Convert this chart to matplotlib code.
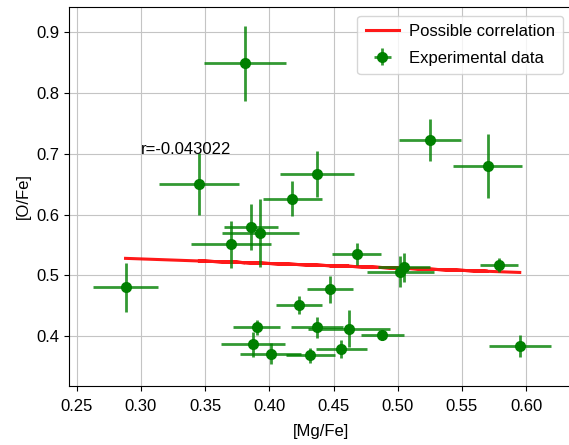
import numpy as np
import matplotlib
matplotlib.use("Agg")
import matplotlib.pyplot as plt

plt.rcParams['font.family'] = ['Liberation Sans', 'DejaVu Sans']
plt.rcParams['font.size'] = 12

# [Mg/Fe] and [O/Fe] with their errors
mg_fe = [0.288, 0.381, 0.345, 0.418, 0.437, 0.525, 0.570, 0.370, 0.386, 0.393,
         0.390, 0.387, 0.401, 0.423, 0.432, 0.437, 0.462, 0.456, 0.447, 0.468,
         0.488, 0.502, 0.505, 0.579, 0.595]
o_fe = [0.480, 0.849, 0.650, 0.626, 0.667, 0.723, 0.680, 0.551, 0.580, 0.569,
        0.414, 0.386, 0.371, 0.451, 0.368, 0.414, 0.412, 0.379, 0.477, 0.535,
        0.402, 0.506, 0.513, 0.517, 0.383]
mg_err = [0.025, 0.032, 0.031, 0.023, 0.029, 0.024, 0.027, 0.031, 0.021, 0.030,
          0.018, 0.025, 0.024, 0.018, 0.019, 0.020, 0.032, 0.020, 0.018, 0.019,
          0.017, 0.026, 0.020, 0.015, 0.024]
o_err = [0.041, 0.062, 0.051, 0.029, 0.038, 0.034, 0.052, 0.039, 0.038, 0.056,
         0.013, 0.020, 0.018, 0.015, 0.013, 0.017, 0.030, 0.015, 0.022, 0.018,
         0.008, 0.026, 0.024, 0.012, 0.018]

x = np.array(mg_fe)
y = np.array(o_fe)
slope, intercept = np.polyfit(x, y, 1)

fig = plt.figure(figsize=(5.69, 4.45), dpi=100)
ax = fig.add_axes([0.1218, 0.1333, 0.883, 0.8503])

ax.plot(x, slope * x + intercept, color='red', lw=2.2, alpha=0.9,
        label='Possible correlation')
ax.errorbar(x, y, xerr=mg_err, yerr=o_err, fmt='o', color='green',
            ecolor=(0.0, 0.5, 0.0, 0.8), elinewidth=2, markersize=7,
            label='Experimental data')

ax.text(0.3, 0.7, 'r=-0.043022')

ax.set_xlim(0.2442, 0.6355)
ax.set_ylim(0.3181, 0.9415)
ax.tick_params(axis='x', pad=6)
ax.set_xlabel('[Mg/Fe]', labelpad=7)
ax.set_ylabel('[O/Fe]')
ax.grid(True, color='#c4c4c4')
ax.legend(loc='upper right', borderpad=0.5, labelspacing=0.7,
          handletextpad=0.6)

fig.savefig('out.png', dpi=100)
